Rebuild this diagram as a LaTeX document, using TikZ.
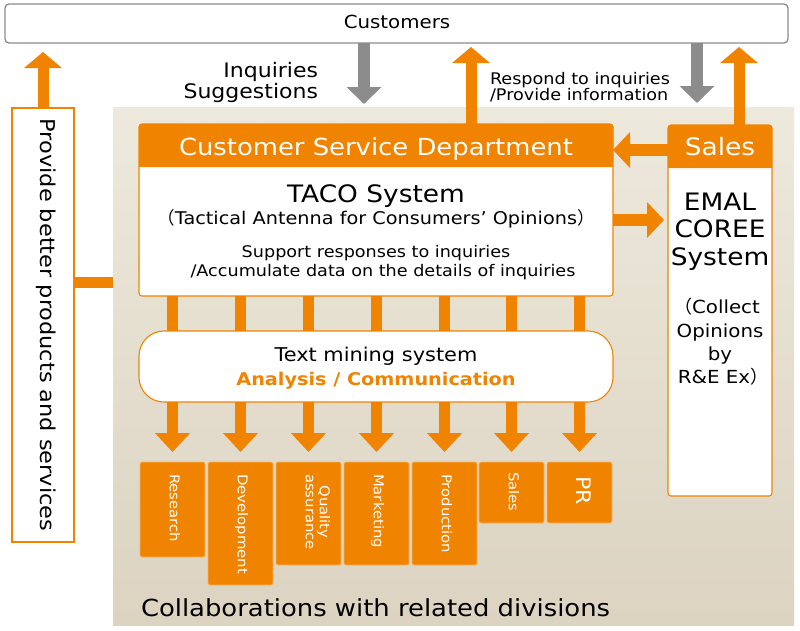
\documentclass[tikz,border=0pt]{standalone}
\usepackage{fontspec}
\setmainfont{DejaVu Sans}[FakeStretch=1.1]
\newfontfamily\cjk{Noto Sans CJK JP}
\usetikzlibrary{arrows.meta,calc}
\definecolor{org}{HTML}{F08300}
\definecolor{grayarr}{HTML}{8C8C8C}
\definecolor{bgtop}{HTML}{EDE9DC}
\definecolor{bgbot}{HTML}{DCD3C1}
\newcommand\fsz[1]{\fontsize{#1}{#1}\selectfont}
\newcommand\fszb[2]{\fontsize{#1}{#2}\selectfont}
\begin{document}
\begin{tikzpicture}[x=1pt,y=-1pt,
  every node/.style={inner sep=0pt, outer sep=0pt},
  bar/.style={draw=org, line width=11pt},
  uarr/.style={bar, -{Triangle[width=37pt,length=16pt]}},
  sarr/.style={bar, line width=12pt, -{Triangle[width=35pt,length=17pt]}},
  darr/.style={bar, -{Triangle[width=34pt,length=19pt]}},
  garr/.style={draw=grayarr, line width=12pt, -{Triangle[width=34pt,length=17pt]}},
  obox/.style={draw=org, fill=white, line width=1.1pt},
  hdr/.style={fill=org, rounded corners=3pt},
  dept/.style={fill=org, draw=org!60!white, line width=0.6pt, rounded corners=2pt, minimum width=65pt},
  dlabel/.style={rotate=-90, anchor=mid west, text=white, align=center, font=\fszb{13.5}{14}},
  txt/.style={anchor=base}
]
\useasboundingbox (0,0) rectangle (800,630);

% background
\node[minimum width=681pt, minimum height=518pt, top color=bgtop, bottom color=bgbot, anchor=north west] (bg) at (113,107) {};

% customers
\node[draw=grayarr, fill=white, rounded corners=4pt, line width=1.3pt, minimum width=783pt, minimum height=39pt] (cust) at (396.5,23.5) {};
\node[txt] (custt) at (397,28.5) {\fsz{18}Customers};

% left box
\node[obox, minimum width=62pt, minimum height=434pt] (left) at (43,325) {};
\node[rotate=-90, anchor=mid] (leftt) at (left.center) {\fsz{20.4}Provide better products and services};

% customer service department
\node[obox, rounded corners=3pt, minimum width=474pt, minimum height=172pt] (csd) at (376,210) {};
\node[hdr, minimum width=474pt, minimum height=43pt, anchor=north] (csdh) at (csd.north) {};
\fill[org] (csdh.west) rectangle (csdh.south east);
\node[txt, text=white] (csdt) at (376,155.5) {\fsz{23.5}Customer Service Department};
\node[txt] (taco) at (376,202) {\fsz{24}TACO System};
\node[txt] (taco2) at (376,224) {\fsz{17.5}{\cjk （}Tactical Antenna for Consumers’ Opinions{\cjk ）}};
\node[txt] (sup1) at (376,257) {\fsz{16}Support responses to inquiries};
\node[txt] (sup2) at (383,276) {\fsz{16}/Accumulate data on the details of inquiries};

% sales
\node[obox, rounded corners=3pt, minimum width=104pt, minimum height=371pt] (sales) at (720,310.5) {};
\node[hdr, minimum width=104pt, minimum height=43pt, anchor=north] (salesh) at (sales.north) {};
\fill[org] (salesh.west) rectangle (salesh.south east);
\node[txt, text=white] (salest) at (720,155.5) {\fsz{24}Sales};
\node[txt] (em1) at (720,210) {\fsz{24}EMAL};
\node[txt] (em2) at (720,237) {\fsz{24}COREE};
\node[txt] (em3) at (720,265) {\fsz{24}System};
\node[txt] (co1) at (717,313) {\fsz{18}{\cjk （}Collect};
\node[txt] (co2) at (720,337) {\fsz{18}Opinions};
\node[txt] (co3) at (720,360) {\fsz{18}by};
\node[txt] (co4) at (723,383) {\fsz{18}R\&E Ex{\cjk ）}};

% departments
\foreach \i/\x/\b in {1/172.5/557, 2/240.5/585, 3/308.5/565, 4/376.5/565, 5/444.5/565, 6/511.5/523, 7/579.5/523}{
  \node[dept, minimum height=\b-462, anchor=north] (d\i) at (\x,462) {};
}
\node[dlabel] (l1) at ($(d1.north)+(0,12)$) {Research};
\node[dlabel] (l2) at ($(d2.north)+(0,12)$) {Development};
\node[dlabel] (l3) at ($(d3.north)+(0,12)$) {Quality\\assurance};
\node[dlabel] (l4) at ($(d4.north)+(0,12)$) {Marketing};
\node[dlabel] (l5) at ($(d5.north)+(0,12)$) {Production};
\node[dlabel] (l6) at ($(d6.north)+(0,10)$) {Sales};
\node[dlabel, font=\fsz{20}] (l7) at ($(d7.north)+(0,14)$) {PR};

% text mining
\foreach \i in {1,...,7}{
  \draw[bar] (csd.south -| d\i.north) -- (d\i.north |- 0,335);
}
\node[obox, rounded corners=25pt, minimum width=474pt, minimum height=71pt] (tm) at (376,366.5) {};
\node[txt] (tm1) at (376,361) {\fsz{19}Text mining system};
\node[txt, text=org] (tm2) at (376,385) {\fsz{17.5}\bfseries Analysis / Communication};
\foreach \i in {1,...,7}{
  \draw[darr] (tm.south -| d\i.north) -- ($(d\i.north)+(0,-10)$);
}

\node[anchor=base west] (collab) at (141,616) {\fsz{23.5}Collaborations with related divisions};

% top labels
\node[txt, anchor=base east] (inq1) at (318,77) {\fsz{20}Inquiries};
\node[txt, anchor=base east] (inq2) at (318,98) {\fsz{20}Suggestions};
\node[txt, anchor=base west] (resp1) at (490,84) {\fsz{16}Respond to inquiries};
\node[txt, anchor=base west] (resp2) at (490,100) {\fsz{16}/Provide information};

% arrows
\coordinate (t1) at (43,52);
\coordinate (t2) at (471,47);
\coordinate (t3) at (739,47);
\coordinate (g1) at (364,104);
\coordinate (g2) at (697,103);
\coordinate (s1) at (0,150);
\coordinate (s2) at (0,220);
\coordinate (s3) at (0,282.5);
\draw[uarr] (left.north) -- (t1);
\draw[uarr] (t2 |- csd.north) -- (t2);
\draw[uarr] (t3 |- sales.north) -- (t3);
\draw[garr] (g1 |- cust.south) -- (g1);
\draw[garr] (g2 |- cust.south) -- (g2);
\draw[sarr] (sales.west |- s1) -- (csd.east |- s1);
\draw[sarr, shorten >=4pt] (csd.east |- s2) -- (sales.west |- s2);
\draw[bar] (left.east |- s3) -- (bg.west |- s3);
\end{tikzpicture}
\end{document}
